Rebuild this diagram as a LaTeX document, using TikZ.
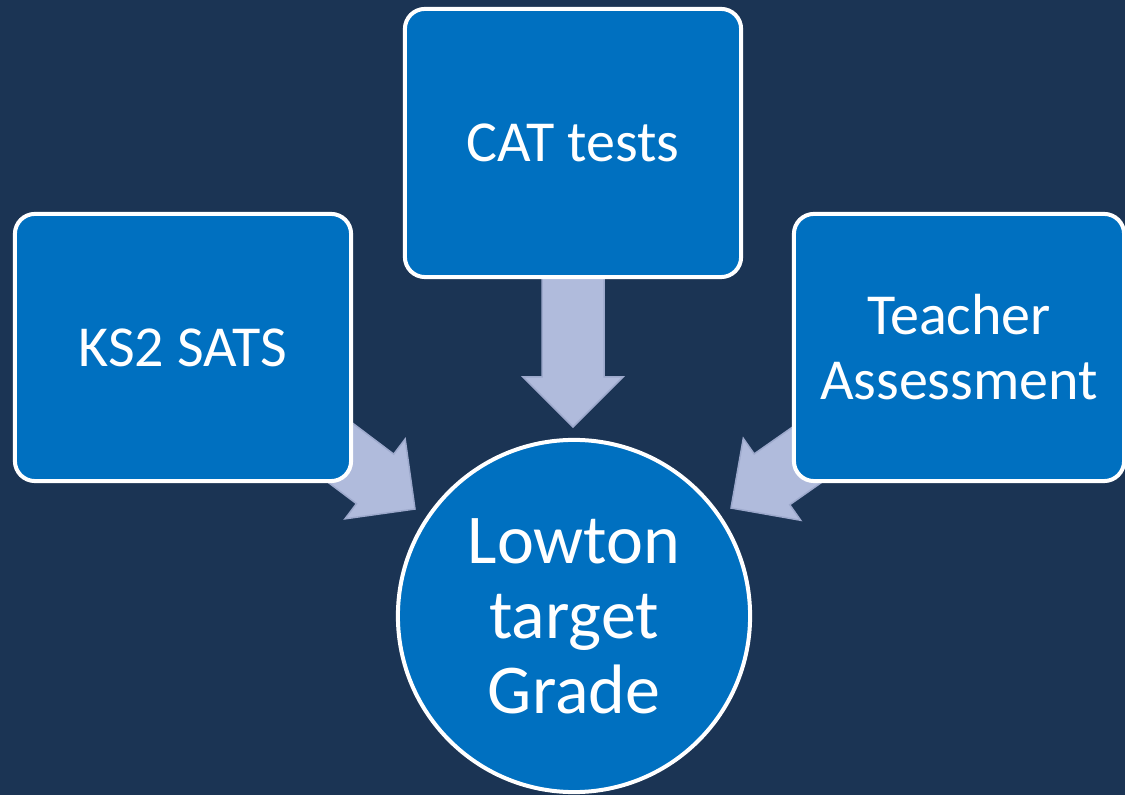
\documentclass[tikz,border=0pt]{standalone}
\usepackage{fontspec}
\setmainfont{Carlito}
\definecolor{bgnavy}{HTML}{1B3454}
\definecolor{boxblue}{HTML}{0070C0}
\definecolor{arrowfill}{HTML}{B0BBDC}
\definecolor{arrowedge}{HTML}{9DA9CC}
\tikzset{
  srcbox/.style={draw=white, line width=0.04cm, fill=boxblue, rounded corners=0.2cm,
    text=white, align=center, inner sep=0pt,
    font=\fontsize{16.5pt}{18.5pt}\selectfont},
  goalcircle/.style={circle, draw=white, line width=0.04cm, fill=boxblue,
    text=white, align=center, inner sep=0pt, minimum size=3.52cm,
    font=\fontsize{19.9pt}{21.3pt}\selectfont},
  blockarrow/.style={fill=arrowfill, draw=arrowedge, line width=0.015cm, line join=miter}
}
\newcommand{\blockarrowshape}[1]{%
  \path[blockarrow] (0,0) -- (-50,50) -- (-50,31) -- (-#1,31) -- (-#1,-31)
    -- (-50,-31) -- (-50,-50) -- cycle;}
\begin{document}
\begin{tikzpicture}[x=0.01cm, y=-0.01cm]
  \fill[bgnavy] (0,0) rectangle (1125,795);
  \useasboundingbox (0,0) rectangle (1125,795);
  % block arrows (behind boxes)
  \begin{scope}[shift={(573,427)}, rotate=-90]
    \blockarrowshape{170}
  \end{scope}
  \begin{scope}[shift={(415,509)}, rotate=-37]
    \blockarrowshape{130}
  \end{scope}
  \begin{scope}[shift={(731,508)}, rotate=-145]
    \blockarrowshape{130}
  \end{scope}
  % boxes
  \node[srcbox, minimum width=3.36cm, minimum height=2.68cm] (cat) at (573,143) {CAT tests};
  \node[srcbox, minimum width=3.36cm, minimum height=2.67cm] (ks2) at (183,347.5) {KS2 SATS};
  \node[srcbox, minimum width=3.30cm, minimum height=2.67cm] (teacher) at (959,347.5) {Teacher\\Assessment};
  \node[goalcircle] (goal) at (574,616) {Lowton\\target\\Grade};
\end{tikzpicture}
\end{document}
